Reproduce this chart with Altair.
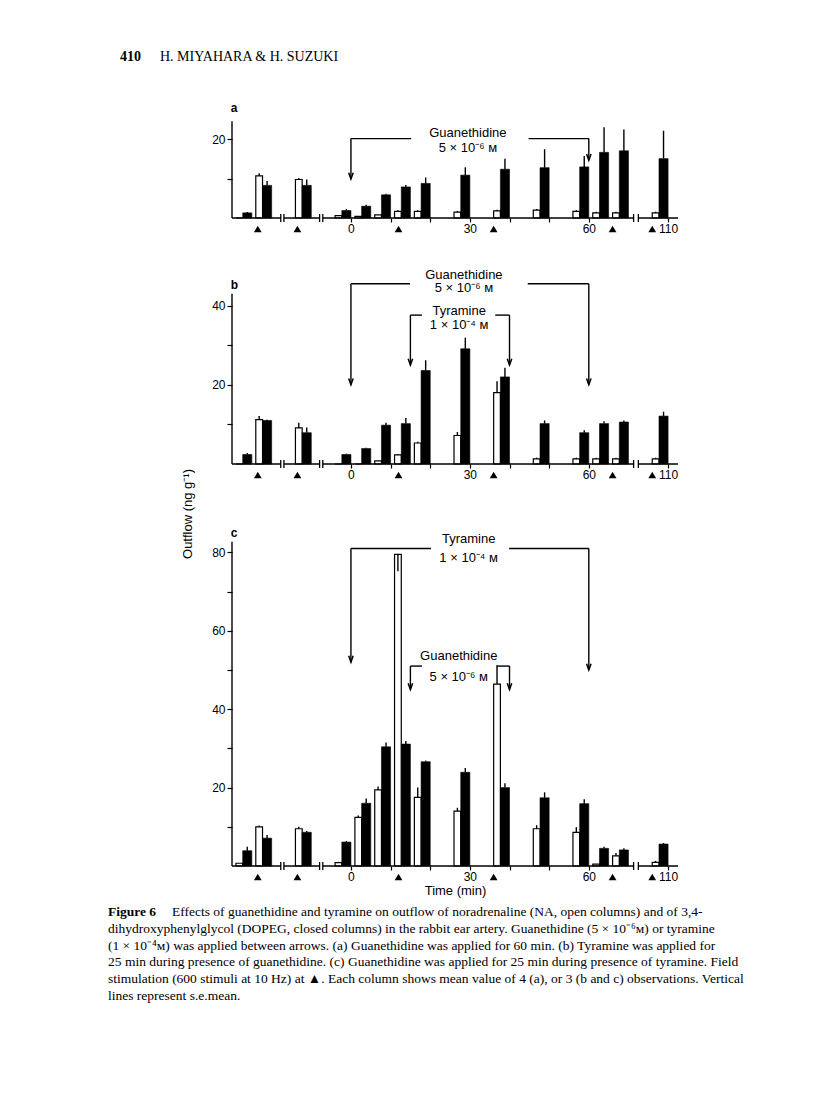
import altair as alt
import pandas as pd

# ---------------- data ----------------
# end time (min) of each collection period; the first three are pre-drug control periods
times = [-25, -20, -10, 0, 5, 10, 15, 20, 30, 40, 50, 60, 65, 70, 110]
# field stimulation (filled triangles)
stim_times = [-23.5, -13.5, 12, 36, 66, 106]

# panel a: guanethidine for 60 min
a_na = [0, 10.7, 9.8, 0.6, 0.4, 0.8, 1.7, 1.7, 1.5, 1.8, 2.0, 1.7, 1.3, 1.3, 1.3]
a_na_err = [0, 0.7, 0.4, 0, 0, 0, 0.3, 0.3, 0.3, 0.3, 0.3, 0.3, 0.3, 0.3, 0.3]
a_dopeg = [1.3, 8.3, 8.3, 1.9, 3.0, 5.9, 7.9, 8.8, 10.9, 12.4, 12.8, 13.0, 16.7, 17.1, 15.1]
a_dopeg_err = [0.2, 1.1, 1.5, 0.4, 0.35, 0.3, 0.5, 1.5, 2.0, 2.7, 4.7, 2.8, 6.4, 5.4, 7.1]

# panel b: tyramine for 25 min during guanethidine
b_na = [0, 11.2, 9.1, 0, 0, 0.8, 2.3, 5.3, 7.2, 18.0, 1.3, 1.3, 1.3, 1.3, 1.3]
b_na_err = [0, 0.9, 1.3, 0, 0, 0, 0.2, 0.3, 0.9, 2.9, 0.3, 0.3, 0.3, 0.3, 0.3]
b_dopeg = [2.4, 11.0, 7.9, 2.4, 3.9, 9.8, 10.2, 23.6, 29.1, 22.0, 10.2, 7.9, 10.2, 10.6, 12.1]
b_dopeg_err = [0.4, 0.2, 1.3, 0.2, 0.2, 0.6, 1.4, 2.6, 2.8, 2.3, 0.8, 0.6, 0.6, 0.4, 1.1]

# panel c: guanethidine for 25 min during tyramine
c_na = [0.7, 10.0, 9.5, 0.85, 12.4, 19.4, 79.5, 17.5, 14.0, 46.4, 9.5, 8.6, 0.5, 2.6, 0.9]
c_na_err = [0, 0.3, 0.5, 0.2, 0.5, 0.85, -4.3, 2.5, 0.85, 4.8, 0.9, 1.3, 0, 0.7, 0.4]
c_dopeg = [3.9, 7.1, 8.6, 6.1, 16.0, 30.4, 31.1, 26.6, 23.9, 20.0, 17.4, 15.9, 4.5, 4.1, 5.6]
c_dopeg_err = [1.0, 0.8, 0.3, 0.3, 1.2, 1.1, 0.8, 0.3, 1.1, 1.1, 1.4, 1.1, 0.4, 0.4, 0.25]

GUA = "Guanethidine"
GUA_C = "5 × 10⁻⁶ ᴍ"
TYR = "Tyramine"
TYR_C = "1 × 10⁻⁴ ᴍ"

header_num = "410"
header_authors = "H. MIYAHARA & H. SUZUKI"
y_title = "Outflow (ng g⁻¹)"
x_title = "Time (min)"
caption_lead = "Figure 6"
caption_first = ("Effects of guanethidine and tyramine on outflow of noradrenaline (NA, open columns) and of 3,4-")
caption_rest = [
    "dihydroxyphenylglycol (DOPEG, closed columns) in the rabbit ear artery. Guanethidine (5 × 10⁻⁶ᴍ) or tyramine",
    "(1 × 10⁻⁴ᴍ) was applied between arrows. (a) Guanethidine was applied for 60 min. (b) Tyramine was applied for",
    "25 min during presence of guanethidine. (c) Guanethidine was applied for 25 min during presence of tyramine. Field",
    "stimulation (600 stimuli at 10 Hz) at ▲. Each column shows mean value of 4 (a), or 3 (b and c) observations. Vertical",
    "lines represent s.e.mean.",
]

# ---------------- layout / style ----------------
FONT = "Liberation Sans"
SERIF = "Liberation Serif"
W = 446
X_DOM = [-30, 82.5]
BREAK_AT, BREAK_SHIFT = 75, 30          # broken time axis: 110 min drawn after the break
AXIS_SEGS = [(-30, -17.7), (-16.9, -7.9), (-7.1, 71.3), (72.5, 82.5)]
BREAK_MARKS = [-17.7, -16.9, -7.9, -7.1, 71.3, 72.5]
ARROW = "M-0.75,-2.1L0,0L0.75,-2.1"
OPEN_L, SPLIT = 4.0, 2.3                 # column pair geometry (min before period end)

xs = alt.Scale(domain=X_DOM, nice=False, zero=False)


def axis_pos(t):
    return t if t <= BREAK_AT else t - BREAK_SHIFT


def make_panel(na, na_err, dopeg, dopeg_err, cfg):
    h = cfg["height"]
    ys = alt.Scale(domain=[0, cfg["y_top"]], nice=False, zero=False)

    xaxis = alt.Axis(values=[0, 10, 20, 30, 40, 50, 60, 80], domain=False, grid=False,
                     tickSize=4, tickWidth=1.2, tickColor="black",
                     labelExpr="datum.value == 80 ? '110' : (datum.value % 30 == 0 ? datum.label : '')",
                     labelFont=FONT, labelFontSize=12, labelColor="black", labelPadding=1,
                     title=cfg.get("xtitle", ""), titleFont=FONT, titleFontSize=13,
                     titleFontWeight="normal", titleColor="black", titlePadding=2)
    yaxis = alt.Axis(values=cfg["y_values"], domain=False, grid=False,
                     tickSize=5, tickWidth=1.2, tickColor="black",
                     labelExpr=cfg["label_expr"], labelFont=FONT, labelFontSize=12,
                     labelColor="black", labelPadding=2, title="")

    def X(f):
        return alt.X(f, type="quantitative", scale=xs, axis=xaxis)

    def Y(f):
        return alt.Y(f, type="quantitative", scale=ys, axis=yaxis)

    rows = []
    for t, v, e, d, de in zip(times, na, na_err, dopeg, dopeg_err):
        p = axis_pos(t)
        rows.append(dict(kind="NA", x=p - OPEN_L, x2=p - SPLIT, v=v, e=e))
        rows.append(dict(kind="DOPEG", x=p - SPLIT, x2=p, v=d, e=de))
    df = pd.DataFrame(rows)
    df["xc"] = (df["x"] + df["x2"]) / 2
    df["top"] = df["v"] + df["e"]
    df["zero"] = 0.0

    base = alt.Chart(df)
    open_bars = base.transform_filter("datum.kind == 'NA'").mark_rect(
        fill="white", stroke="black", strokeWidth=1.2).encode(
        x=X("x"), x2="x2:Q", y=Y("v"), y2="zero:Q")
    closed_bars = base.transform_filter("datum.kind == 'DOPEG'").mark_rect(
        fill="black", stroke="black", strokeWidth=0.6).encode(
        x=X("x"), x2="x2:Q", y=Y("v"), y2="zero:Q")
    errs = base.transform_filter("datum.e != 0").mark_rule(
        color="black", strokeWidth=1.4).encode(x=X("xc"), y=Y("v"), y2="top:Q")

    # axes drawn as lines (broken x axis)
    seg_df = pd.DataFrame({"x": [s[0] for s in AXIS_SEGS], "x2": [s[1] for s in AXIS_SEGS], "y": 0.0})
    xline = alt.Chart(seg_df).mark_rule(color="black", strokeWidth=1.4).encode(
        x=X("x"), x2="x2:Q", y=Y("y"))
    brk = alt.Chart(pd.DataFrame({"x": BREAK_MARKS})).mark_rule(color="black", strokeWidth=1.3).encode(
        x=X("x"), y=alt.value(h - 4), y2=alt.value(h + 4))
    yline = alt.Chart(pd.DataFrame({"y": [0.0], "y2": [cfg["axis_top"]]})).mark_rule(
        color="black", strokeWidth=1.4).encode(x=alt.value(0), y=Y("y"), y2="y2:Q")

    stim = alt.Chart(pd.DataFrame({"t": [axis_pos(s) for s in stim_times]})).mark_point(
        shape="triangle-up", filled=True, color="black", size=60, opacity=1).encode(
        x=X("t"), y=alt.value(h + 11))

    # drug application brackets with arrows
    segs, heads = [], []
    for b in cfg["brackets"]:
        s, e, lev, tl, tr, gl, gr = b
        segs += [(s, s, lev, tl), (s, gl, lev, lev), (gr, e, lev, lev), (e, e, lev, tr)]
        heads += [(s, tl), (e, tr)]
    seg_b = pd.DataFrame(segs, columns=["x", "x2", "y", "y2"])
    brackets = alt.Chart(seg_b).mark_rule(color="black", strokeWidth=1.4).encode(
        x=X("x"), x2="x2:Q", y=Y("y"), y2="y2:Q")
    arrows = alt.Chart(pd.DataFrame(heads, columns=["x", "y"])).mark_point(
        shape=ARROW, filled=False, stroke="black", strokeWidth=1.5, size=36, opacity=1).encode(
        x=X("x"), y=Y("y"))
    txt_df = pd.DataFrame(cfg["texts"], columns=["x", "y", "t"])
    texts = alt.Chart(txt_df).mark_text(font=FONT, fontSize=13, color="black",
                                        baseline="middle", align="center").encode(
        x=X("x"), y=Y("y"), text="t:N")
    letter = alt.Chart(pd.DataFrame({"x": [-30.3], "y": [cfg["letter_y"]], "t": [cfg["letter"]]})).mark_text(
        font=FONT, fontSize=12, fontWeight="bold", color="black", align="left", baseline="middle").encode(
        x=X("x"), y=Y("y"), text="t:N")

    layers = [open_bars, closed_bars, errs, xline, brk, yline, stim, brackets, arrows, texts, letter]
    layers += cfg.get("extra", [])
    return alt.layer(*layers).properties(width=W, height=h)


one = pd.DataFrame({"k": [0]})
header = [
    alt.Chart(one).mark_text(font=SERIF, fontSize=14, fontWeight="bold", color="black",
                             align="left", baseline="middle").encode(
        x=alt.value(-112), y=alt.value(-47), text=alt.value(header_num)),
    alt.Chart(one).mark_text(font=SERIF, fontSize=14, color="black",
                             align="left", baseline="middle").encode(
        x=alt.value(-72), y=alt.value(-47), text=alt.value(header_authors)),
]

footer = [
    alt.Chart(one).mark_text(font=FONT, fontSize=13, color="black", angle=270,
                             align="center", baseline="middle").encode(
        x=alt.value(-44), y=alt.value(2), text=alt.value(y_title)),
    alt.Chart(one).mark_text(font=SERIF, fontSize=13.5, fontWeight="bold", color="black",
                             align="left", baseline="top").encode(
        x=alt.value(-124), y=alt.value(354 + 39), text=alt.value(caption_lead)),
    alt.Chart(one).mark_text(font=SERIF, fontSize=13.5, color="black",
                             align="left", baseline="top").encode(
        x=alt.value(-60), y=alt.value(354 + 39), text=alt.value(caption_first)),
    alt.Chart(one).mark_text(font=SERIF, fontSize=13.5, color="black", lineHeight=16.8,
                             align="left", baseline="top").encode(
        x=alt.value(-124), y=alt.value(354 + 39 + 16.8), text=alt.value(caption_rest)),
]

cfg_a = dict(letter="a", y_top=29.0, height=114, axis_top=24.6, letter_y=27.9,
             y_values=[10, 20], label_expr="datum.value == 20 ? datum.label : ''",
             brackets=[(0, 60, 20.2, 9.9, 14.7, 15.2, 44.8)],
             texts=[(29.5, 21.7, GUA), (29.5, 17.9, GUA_C)],
             extra=header)
cfg_b = dict(letter="b", y_top=50.0, height=198, axis_top=43.0, letter_y=45.3,
             y_values=[10, 20, 30, 40], label_expr="datum.value % 20 == 0 ? datum.label : ''",
             brackets=[(0, 60, 45.5, 20, 20, 14.9, 44.6),
                       (15, 40, 37.6, 25, 25, 17.9, 36.4)],
             texts=[(28.5, 47.8, GUA), (28.5, 44.4, GUA_C),
                    (27.3, 38.7, TYR), (27.3, 35.0, TYR_C)])
cfg_c = dict(letter="c", y_top=90.3, height=354, axis_top=82.7, letter_y=85.0,
             y_values=[10, 20, 30, 40, 50, 60, 70, 80], label_expr="datum.value % 20 == 0 ? datum.label : ''",
             brackets=[(0, 60, 81.0, 52, 50, 20.2, 39.9),
                       (15, 40, 51.0, 45, 45, 17.9, 36.8)],
             texts=[(29.7, 83.3, TYR), (29.7, 78.6, TYR_C),
                    (27.2, 53.6, GUA), (27.2, 48.1, GUA_C)],
             xtitle=x_title, extra=footer)

pa = make_panel(a_na, a_na_err, a_dopeg, a_dopeg_err, cfg_a)
pb = make_panel(b_na, b_na_err, b_dopeg, b_dopeg_err, cfg_b)
pc = make_panel(c_na, c_na_err, c_dopeg, c_dopeg_err, cfg_c)

chart = alt.vconcat(pa, pb, pc, spacing=48, bounds="flush").properties(
    padding={"left": 100, "top": 42, "right": 10, "bottom": 10}
).configure_view(stroke=None)

chart.save("out.html", embed_options={"renderer": "svg", "actions": False})
